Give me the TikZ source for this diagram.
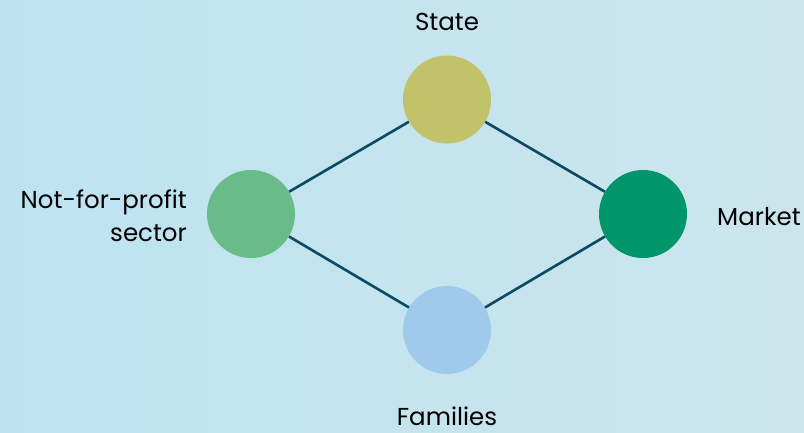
\documentclass[tikz,border=0pt]{standalone}
\usepackage{fontspec}
\setmainfont{Poppins}
\usepackage{tikz}

\definecolor{bgleft}{HTML}{BDE3F1}
\definecolor{bgright}{HTML}{CCE5EC}
\definecolor{linkcol}{HTML}{0B4A62}
\definecolor{statecol}{HTML}{C0C36A}
\definecolor{npcol}{HTML}{69BB89}
\definecolor{marketcol}{HTML}{00956A}
\definecolor{famcol}{HTML}{A0CAEC}

\begin{document}
\begin{tikzpicture}[x=1pt, y=-1pt,
    actor/.style={circle, minimum size=88pt, inner sep=0pt},
    lbl/.style={font=\fontsize{24.5}{33}\selectfont, inner sep=0pt},
    link/.style={draw=linkcol, line width=2.6pt}]
    \shade[left color=bgleft, right color=bgright] (0,0) rectangle (804,432);
    \useasboundingbox (0,0) rectangle (804,432);

    \node[actor, fill=statecol] (S) at (447,99.5) {};
    \node[actor, fill=npcol] (N) at (251,214) {};
    \node[actor, fill=marketcol] (M) at (643,214) {};
    \node[actor, fill=famcol] (F) at (447,330) {};

    \node[lbl, anchor=base] (LS) at (447,30) {State};
    \node[lbl, anchor=east, align=right] (LN) at (187,216) {Not-for-profit\\sector};
    \node[lbl, anchor=west] (LM) at (717,217) {Market};
    \node[lbl, anchor=base] (LF) at (447,425) {Families};

    \draw[link] (S) -- (N);
    \draw[link] (S) -- (M);
    \draw[link] (N) -- (F);
    \draw[link] (M) -- (F);
\end{tikzpicture}
\end{document}
